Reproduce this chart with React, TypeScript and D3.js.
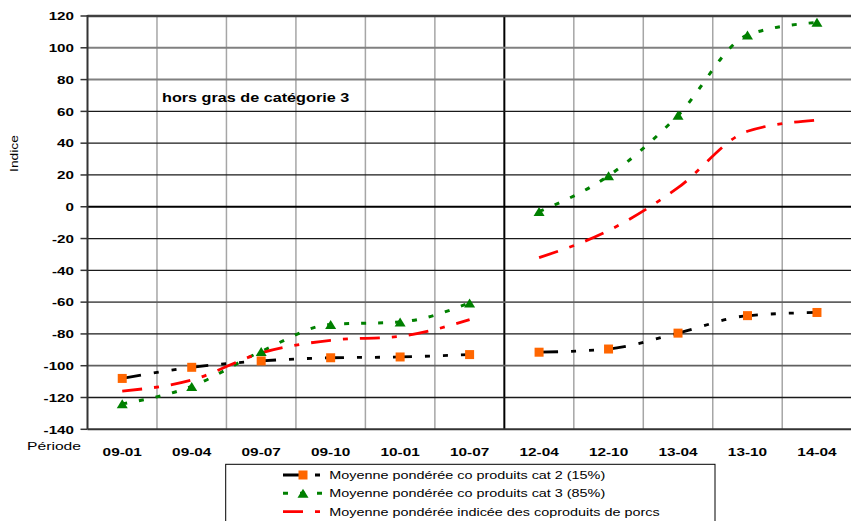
import React from 'react';
import * as d3 from 'd3';

const categories = ['09-01', '09-04', '09-07', '09-10', '10-01', '10-07', '12-04', '12-10', '13-04', '13-10', '14-04'];
const cat2Values = [-108, -101, -97, -95, -94.5, -93, -91.5, -89.5, -79.5, -68.5, -66.5];
const cat3Values = [-124, -113, -91, -74, -72.5, -60.5, -3, 19.5, 57.5, 108, 116];
const indexedValues = [-116, -109, -92, -84, -81.5, -71, -32, -15, 12, 47.5, 54.5];
const yTicks = [-140, -120, -100, -80, -60, -40, -20, 0, 20, 40, 60, 80, 100, 120];
const segments = [[0, 5], [6, 10]];
const legendLabels = [
  'Moyenne pondérée co produits cat 2 (15%)',
  'Moyenne pondérée co produits cat 3 (85%)',
  'Moyenne pondérée indicée des coproduits de porcs',
];
const title = 'hors gras de catégorie 3';

const W = 851;
const H = 521;
const FONT = "'Liberation Sans', Arial, Helvetica, sans-serif";

const x = d3.scaleBand<string>().domain(categories).range([87.5, 851.7]).paddingInner(0).paddingOuter(0);
const y = d3.scaleLinear().domain([-140, 120]).range([429.3, 16]);
const cx = (i: number) => (x(categories[i]) as number) + x.bandwidth() / 2;

const line = d3
  .line<number[]>()
  .x((d) => d[0])
  .y((d) => d[1])
  .curve(d3.curveMonotoneX);

function T({ x, y, s = 1.3, rot = 0, anchor = 'start', size = 11, weight = 'normal', children }: any) {
  return (
    <text
      transform={`translate(${x},${y}) rotate(${rot}) scale(${s},1)`}
      textAnchor={anchor}
      fontFamily={FONT}
      fontSize={size}
      fontWeight={weight}
      fill="#000"
    >
      {children}
    </text>
  );
}

function gridStyle(v: number) {
  if (v === 120) return { stroke: '#404040', w: 2.5 };
  if (v === 0) return { stroke: '#000', w: 2 };
  if (v === 100 || v === 80) return { stroke: '#808080', w: 2 };
  if (v === -60 || v === -100) return { stroke: '#606060', w: 1.8 };
  return { stroke: '#1a1a1a', w: 1.3 };
}

const series = [
  { values: cat2Values, color: '#000', dash: '19,13,5,13,5,13', width: 2.8, marker: 'square' },
  { values: cat3Values, color: '#008000', dash: '5,12', width: 3, marker: 'triangle' },
  { values: indexedValues, color: '#ff0000', dash: '20,12,5,12', width: 2.8, marker: 'none' },
];

function Marker({ type, px, py }: any) {
  if (type === 'square') {
    return <rect x={px - 4.5} y={py - 4.5} width={9} height={9} fill="#ff6600" />;
  }
  if (type === 'triangle') {
    return <path d={`M${px - 5.5},${py + 4.5}L${px + 5.5},${py + 4.5}L${px},${py - 4.5}Z`} fill="#008000" />;
  }
  return null;
}

export default function App() {
  const left = 87.5;
  const right = 851;
  const top = y(120);
  const bottom = y(-140);

  return (
    <svg width={W} height={H} style={{ position: 'absolute', left: 0, top: 0, background: '#fff' }}>
      <rect x={0} y={0} width={W} height={H} fill="#fff" />
      {/* vertical grid */}
      {categories.map((c, i) =>
        i === 0 ? null : (
          <line
            key={'vg' + c}
            x1={x(c)}
            x2={x(c)}
            y1={top}
            y2={bottom}
            stroke={c === '12-04' ? '#000' : '#a6a6a6'}
            strokeWidth={c === '12-04' ? 2 : 1.5}
          />
        )
      )}
      {/* horizontal grid */}
      {yTicks.map((v) => {
        const g = gridStyle(v);
        return v === -140 ? null : (
          <line key={'hg' + v} x1={left} x2={right} y1={y(v)} y2={y(v)} stroke={g.stroke} strokeWidth={g.w} />
        );
      })}
      {/* axes */}
      <line x1={left} x2={right} y1={bottom} y2={bottom} stroke="#333" strokeWidth={2} />
      <line x1={left} x2={left} y1={top - 1} y2={bottom} stroke="#333" strokeWidth={2} />
      {yTicks.map((v) => (
        <line key={'tk' + v} x1={left - 7} x2={left} y1={y(v)} y2={y(v)} stroke="#333" strokeWidth={1.5} />
      ))}
      {yTicks.map((v) => (
        <T key={'yl' + v} x={74} y={y(v) + 4.3} anchor="end" weight="bold" s={1.38}>
          {v}
        </T>
      ))}
      {categories.map((c, i) => (
        <T key={'xl' + c} x={cx(i)} y={455.5} anchor="middle" weight="bold" size={11.3} s={1.36}>
          {c}
        </T>
      ))}
      <T x={81} y={450} anchor="end" size={11.5} s={1.36}>
        Période
      </T>
      <T x={18} y={153.5} anchor="middle" rot={-90} s={1.26}>
        Indice
      </T>
      <T x={162} y={102} size={12} weight="bold" s={1.35}>
        {title}
      </T>

      {/* series lines */}
      {series.map((s, si) =>
        segments.map(([a, b], k) => {
          const pts = d3.range(a, b + 1).map((i) => [cx(i), y(s.values[i])]);
          return (
            <path
              key={'ln' + si + '-' + k}
              d={line(pts) as string}
              fill="none"
              stroke={s.color}
              strokeWidth={s.width}
              strokeDasharray={s.dash}
            />
          );
        })
      )}
      {/* markers */}
      {series.map((s, si) =>
        s.values.map((v, i) => <Marker key={'mk' + si + '-' + i} type={s.marker} px={cx(i)} py={y(v)} />)
      )}

      {/* legend */}
      <rect x={225.7} y={464.3} width={489.3} height={80} fill="#fff" stroke="#000" strokeWidth={1} />
      {series.map((s, i) => {
        const ly = 475 + i * 18.3;
        return (
          <g key={'lg' + i}>
            <line x1={283} x2={323} y1={ly} y2={ly} stroke={s.color} strokeWidth={s.width} strokeDasharray={s.dash} />
            <Marker type={s.marker} px={303} py={ly} />
            <T x={329.3} y={ly + 4} s={1.31}>
              {legendLabels[i]}
            </T>
          </g>
        );
      })}
    </svg>
  );
}
